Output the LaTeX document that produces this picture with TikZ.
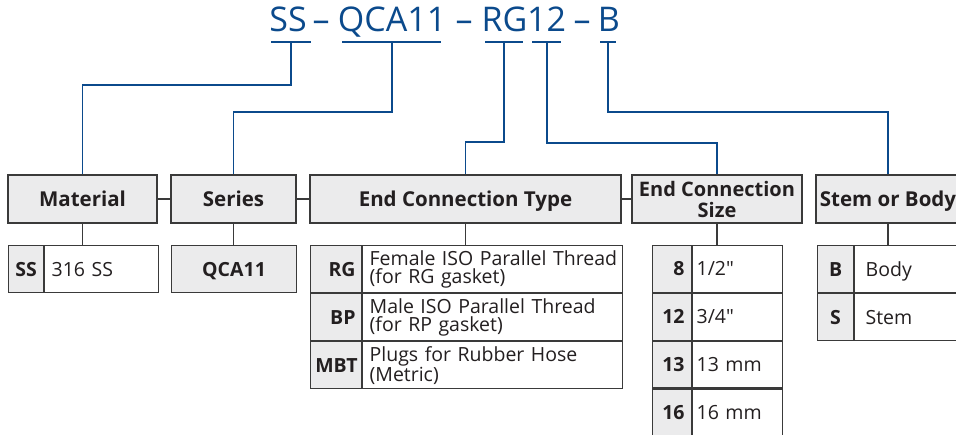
\documentclass[tikz,border=0pt]{standalone}
\usepackage{fontspec}
\setmainfont[Ligatures=TeXOff]{Open Sans}
\usetikzlibrary{positioning}
\definecolor{codeblue}{HTML}{0B4A8C}
\definecolor{boxgray}{HTML}{EBEBEC}
\definecolor{boxline}{HTML}{3A3A3A}
\definecolor{ink}{HTML}{231F20}

\begin{document}
\begin{tikzpicture}[
        x=1pt,
        y=-1pt,
        every node/.style={text=ink, inner sep=0pt},
        headbox/.style={draw=boxline, fill=boxgray, line width=1.1pt,
            font=\fontsize{20.5}{21}\selectfont\bfseries, minimum height=48pt,
            text height=14.5pt, text depth=0pt},
        keycell/.style={draw=boxline, fill=boxgray, line width=1.1pt,
            font=\fontsize{19.5}{21}\selectfont\bfseries, anchor=north west, minimum height=47pt,
            text height=14pt, text depth=0pt},
        valcell/.style={draw=boxline, fill=white, line width=1.1pt,
            font=\fontsize{19.5}{18}\selectfont, anchor=north west, minimum height=47pt, align=left,
            text height=14pt, text depth=0pt},
        twoline/.style={font=\fontsize{19.5}{18}\selectfont, text height=, text depth=},
        codetext/.style={text=codeblue, font=\fontsize{34}{34}\selectfont, anchor=base},
        uline/.style={draw=codeblue, line width=1.7pt},
        leader/.style={draw=codeblue, line width=1.7pt},
        stub/.style={draw=boxline, line width=1.1pt}
    ]
    \useasboundingbox (0,0) rectangle (956,434);
    \clip (0,0) rectangle (956,434);

    % part number
    \node[codetext] (c-ss) at (288,31) {SS};
    \node[codetext] (d1) at (321,31) {–};
    \node[codetext] (c-qca) at (392,31) {QCA11};
    \node[codetext] (d2) at (464,31) {–};
    \node[codetext] (c-rg) at (504.5,31) {RG};
    \node[codetext] (c-sz) at (546.5,31) {12};
    \node[codetext] (d3) at (582,31) {–};
    \node[codetext] (c-b) at (609,31) {B};

    \coordinate (u-ss) at (291,42);
    \coordinate (u-qca) at (392,42);
    \coordinate (u-rg) at (504,42);
    \coordinate (u-sz) at (547,42);
    \coordinate (u-b) at (608,42);
    \draw[uline] ([xshift=-20]u-ss) -- ([xshift=20]u-ss);
    \draw[uline] ([xshift=-50]u-qca) -- ([xshift=49]u-qca);
    \draw[uline] ([xshift=-19]u-rg) -- ([xshift=19]u-rg);
    \draw[uline] ([xshift=-15]u-sz) -- ([xshift=14]u-sz);
    \draw[uline] ([xshift=-8]u-b) -- ([xshift=8]u-b);

    % headers
    \node[headbox, minimum width=149pt] (mat) at (82.5,199) {Material};
    \node[headbox, minimum width=125pt] (ser) at (233.5,199) {Series};
    \node[headbox, minimum width=311pt] (ect) at (465.5,199) {End Connection Type};
    \node[headbox, minimum width=170pt, align=center, text height=, text depth=,
        font=\fontsize{20}{21}\selectfont\bfseries] (ecs) at (717,199) {End Connection\\Size};
    \node[headbox, minimum width=144pt] (sob) at (888,199) {Stem or Body};

    \draw[stub] (mat) -- (ser);
    \draw[stub] (ser) -- (ect);
    \draw[stub] (ect) -- (ecs);

    % leaders from the part number
    \draw[leader] (u-ss) -- ++(0,43) -| (mat.north);
    \draw[leader] (u-qca) -- ++(0,70) -| (ser.north);
    \draw[leader] (u-rg) -- ++(0,100) -| (ect.north);
    \draw[leader] (u-sz) -- ++(0,101) -| (ecs.north);
    \draw[leader] (u-b) -- ++(0,70) -| (sob.north);

    % material
    \node[keycell, minimum width=35pt] (k-ss) at (8,245) {SS};
    \node[valcell, text width=114pt] (v-ss) at (k-ss.north east) {\hspace*{7pt}316 SS};
    \draw[stub] (mat.south) -- (mat.south |- k-ss.north);

    % series
    \node[keycell, minimum width=125pt] (k-qca) at (171,245) {QCA11};
    \draw[stub] (ser.south) -- (ser.south |- k-qca.north);

    % end connection type
    \node[keycell, text width=51pt, align=right] (k-rg) at (310,245) {RG\hspace*{6pt}};
    \node[valcell, twoline, text width=260pt] (v-rg) at (k-rg.north east) {\hspace*{7pt}Female ISO Parallel Thread\\\hspace*{7pt}(for RG gasket)};
    \node[keycell, text width=51pt, align=right] (k-bp) at (k-rg.south west) {BP\hspace*{6pt}};
    \node[valcell, twoline, text width=260pt] (v-bp) at (k-bp.north east) {\hspace*{7pt}Male ISO Parallel Thread\\\hspace*{7pt}(for RP gasket)};
    \node[keycell, text width=51pt, align=right] (k-mbt) at (k-bp.south west) {MBT\hspace*{4pt}};
    \node[valcell, twoline, text width=260pt] (v-mbt) at (k-mbt.north east) {\hspace*{7pt}Plugs for Rubber Hose\\\hspace*{7pt}(Metric)};
    \draw[stub] (ect.south) -- (ect.south |- k-rg.north);

    % end connection size
    \node[keycell, text width=39pt, align=right, minimum height=46.75pt] (k-8) at (652,245) {8\hspace*{7pt}};
    \node[valcell, text width=90pt, minimum height=46.75pt] (v-8) at (k-8.north east) {\hspace*{4pt}1/2"};
    \node[keycell, text width=39pt, align=right, minimum height=46.75pt] (k-12) at (k-8.south west) {12\hspace*{7pt}};
    \node[valcell, text width=90pt, minimum height=46.75pt] (v-12) at (k-12.north east) {\hspace*{4pt}3/4"};
    \node[keycell, text width=39pt, align=right, minimum height=46.75pt] (k-13) at (k-12.south west) {13\hspace*{7pt}};
    \node[valcell, text width=90pt, minimum height=46.75pt] (v-13) at (k-13.north east) {\hspace*{4pt}13 mm};
    \node[keycell, text width=39pt, align=right, minimum height=46.75pt] (k-16) at (k-13.south west) {16\hspace*{7pt}};
    \node[valcell, text width=90pt, minimum height=46.75pt] (v-16) at (k-16.north east) {\hspace*{4pt}16 mm};
    \draw[stub] (ecs.south) -- (ecs.south |- k-8.north);

    % stem or body
    \node[keycell, minimum width=36pt] (k-b) at (817,245) {B};
    \node[valcell, text width=110pt] (v-b) at (k-b.north east) {\hspace*{11pt}Body};
    \node[keycell, minimum width=36pt] (k-s) at (k-b.south west) {S};
    \node[valcell, text width=110pt] (v-s) at (k-s.north east) {\hspace*{11pt}Stem};
    \draw[stub] (sob.south) -- (sob.south |- k-b.north);
\end{tikzpicture}
\end{document}
